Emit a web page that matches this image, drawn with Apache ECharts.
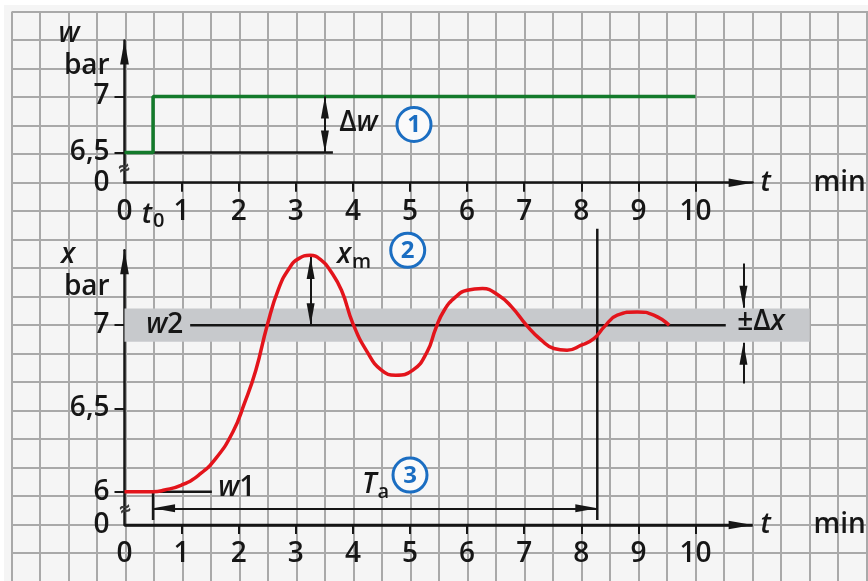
<!DOCTYPE html>
<html><head><meta charset="utf-8">
<script src="https://cdn.jsdelivr.net/npm/echarts@6/dist/echarts.min.js"></script>
<style>html,body{margin:0;padding:0;background:#fff}#c{width:868px;height:581px}</style>
</head><body><div id="c"></div>
<script>
// ---------- data ----------
const tTicks = [1, 2, 3, 4, 5, 6, 7, 8, 9, 10];
const tLabelsTop = [0, 0.5, 1, 2, 3, 4, 5, 6, 7, 8, 9, 10];
const tLabelsBottom = [0, 1, 2, 3, 4, 5, 6, 7, 8, 9, 10];
const wTicks = [6.5, 7];
const wLabelValues = [6.23, 6.5, 7];   // 6.23 = broken-axis origin shown as "0"
const xTicks = [6, 6.5, 7];
const xLabelValues = [5.8, 6, 6.5, 7]; // 5.8 = broken-axis origin shown as "0"
const wStep = [[0, 6.5], [0.5, 6.5], [0.5, 7], [10, 7]];
const wRefLine = [[0, 6.5], [3.65, 6.5]];
const xResponse = [
  [0, 6.0], [0.5, 6.0], [0.7, 6.01], [1.0, 6.04], [1.3, 6.10], [1.6, 6.20], [1.9, 6.36],
  [2.1, 6.53], [2.3, 6.73], [2.5, 7.0], [2.7, 7.22], [2.9, 7.35], [3.05, 7.40], [3.25, 7.42],
  [3.45, 7.39], [3.6, 7.33], [3.8, 7.21], [4.0, 7.01], [4.25, 6.84], [4.5, 6.73], [4.75, 6.70],
  [5.05, 6.73], [5.3, 6.84], [5.45, 6.98], [5.6, 7.09], [5.8, 7.17], [6.0, 7.21], [6.27, 7.22],
  [6.55, 7.18], [6.78, 7.11], [7.04, 7.0], [7.3, 6.91], [7.52, 6.86], [7.75, 6.85], [8.0, 6.88],
  [8.22, 6.92], [8.4, 6.99], [8.63, 7.06], [8.98, 7.08], [9.27, 7.06], [9.54, 7.0]
];
const w2Line = [[1.15, 7], [10.53, 7]];
const w1Line = [[0, 6], [1.53, 6]];
const t0Marker = [[0.5, 6], [0.5, 5.83]];
const taMarker = [[8.28, 7.58], [8.28, 5.83]];
const tAxisBottom = [[0, 5.8], [11, 5.8]];
const band = [6.9, 7.1];
const tBandEnd = 12;
const dwArrow = [[3.51, 6.5], [3.51, 7]];
const xmArrow = [[3.26, 7.0], [3.26, 7.41]];
const taArrow = [[0.5, 5.9], [8.28, 5.9]];
const dxTopArrow = [[10.84, 7.37], [10.84, 7.105]];
const dxBotArrow = [[10.84, 6.65], [10.84, 6.895]];

// ---------- styles ----------
const FONT = '"Open Sans", Roboto, "Liberation Sans", Arial, sans-serif';
const FW = 600;
const INK = '#161616';
const BLUE = '#1b6ec2';
const ARROW = 'path://M0,0L4,22L-4,22ZM0,-22';
const FS = 28;
const rich = {
  i: { fontStyle: 'italic', fontSize: FS, fontWeight: FW, color: INK, fontFamily: FONT },
  s: { fontSize: 20, fontWeight: FW, color: INK, fontFamily: FONT, padding: [14, 0, 0, 1] }
};

function lineSeries(g, data, color, width, z, extra) {
  return Object.assign({
    type: 'line', xAxisIndex: g, yAxisIndex: g, data: data, symbol: 'none', clip: false,
    lineStyle: { color: color, width: width }, z: z, silent: true, animation: false
  }, extra || {});
}
function arrowLine(pair, both) {
  return [
    { coord: pair[0], symbol: both ? ARROW : 'none' },
    { coord: pair[1], symbol: ARROW }
  ];
}
function markLines(pairs, width, label) {
  return {
    silent: true, animation: false, symbol: ['none', ARROW], symbolSize: 44, symbolKeepAspect: true,
    itemStyle: { color: INK },
    label: label || { show: false }, lineStyle: { color: INK, width: width || 2, type: 'solid' },
    emphasis: { disabled: true },
    data: pairs
  };
}

const bgAxis = (max) => ({
  type: 'value', gridIndex: 0, min: 0, max: max, interval: 1,
  axisLine: { show: false }, axisTick: { show: false }, axisLabel: { show: false },
  splitLine: { show: true, lineStyle: { color: '#a9a9a9', width: 2 } }
});

const axisLineStyle = { color: INK, width: 2.5 };
const lbl = { fontSize: FS, fontWeight: FW, color: INK, fontFamily: FONT };
const tminRich = {
  t: { fontStyle: 'italic', fontSize: FS, fontWeight: FW, color: INK, fontFamily: FONT, width: 53 },
  m: { fontSize: FS, fontWeight: FW, color: INK, fontFamily: FONT }
};

const option = {
  animation: false,
  backgroundColor: '#f5f5f5',
  textStyle: { fontFamily: FONT },
  grid: [
    { left: 11.7, top: 11.7, width: 883.5, height: 598.5, outerBoundsMode: 'none', containLabel: false },
    { left: 124.5, top: 40.5, width: 57.1 * 11, height: 142.24, outerBoundsMode: 'none', containLabel: false },
    { left: 124.5, top: 250.3, width: 57.1 * 12, height: 274.7, outerBoundsMode: 'none', containLabel: false }
  ],
  xAxis: [
    bgAxis(31),
    {
      type: 'value', gridIndex: 1, min: 0, max: 11,
      axisLine: { show: true, lineStyle: axisLineStyle, symbol: ['none', ARROW], symbolSize: [9, 48] },
      axisTick: { show: true, customValues: tTicks, length: 9, lineStyle: { color: INK, width: 2 } },
      axisLabel: Object.assign({
        customValues: tLabelsTop, margin: 15, rich: rich,
        formatter: v => (Math.abs(v - 0.5) < 1e-6 ? '{i|t}{s|0}' : String(v))
      }, lbl),
      splitLine: { show: false },
      name: '{t|t}{m|min}', nameLocation: 'end', nameGap: 8,
      nameTextStyle: { rich: tminRich }
    },
    {
      type: 'value', gridIndex: 2, min: 0, max: tBandEnd,
      axisLine: { show: false },
      axisTick: { show: true, customValues: tTicks, length: 9, lineStyle: { color: INK, width: 2 } },
      axisLabel: Object.assign({ customValues: tLabelsBottom, margin: 15 }, lbl),
      splitLine: { show: false }
    }
  ],
  yAxis: [
    bgAxis(21),
    {
      type: 'value', gridIndex: 1, min: 6.23, max: 7.5,
      axisLine: { show: true, lineStyle: axisLineStyle, symbol: ['none', ARROW], symbolSize: [9, 48] },
      axisTick: { show: true, customValues: wTicks, length: 10, lineStyle: { color: INK, width: 2 } },
      axisLabel: Object.assign({
        customValues: wLabelValues, margin: 15,
        formatter: v => (v < 6.4 ? '0' : String(v).replace('.', ','))
      }, lbl),
      splitLine: { show: false }
    },
    {
      type: 'value', gridIndex: 2, min: 5.8, max: 7.45,
      axisLine: { show: true, lineStyle: axisLineStyle, symbol: ['none', ARROW], symbolSize: [9, 48] },
      axisTick: { show: true, customValues: xTicks, length: 10, lineStyle: { color: INK, width: 2 } },
      axisLabel: Object.assign({
        customValues: xLabelValues, margin: 15,
        formatter: v => (v < 5.9 ? '0' : String(v).replace('.', ','))
      }, lbl),
      splitLine: { show: false }
    }
  ],
  series: [
    lineSeries(1, wRefLine, INK, 2.5, 3, { markLine: markLines([arrowLine(dwArrow, true)]) }),
    lineSeries(1, wStep, '#137a2b', 3.5, 4),
    lineSeries(2, w2Line, INK, 2.5, 3, {
      markArea: {
        silent: true, itemStyle: { color: '#c7c9cc', opacity: 1 }, label: { show: false },
        data: [[{ coord: [0, band[0]] }, { coord: [tBandEnd, band[1]] }]]
      },
      markLine: markLines([
        arrowLine(xmArrow, true), arrowLine(taArrow, true),
        arrowLine(dxTopArrow, false), arrowLine(dxBotArrow, false)
      ])
    }),
    lineSeries(2, w1Line, INK, 2.5, 3),
    lineSeries(2, t0Marker, INK, 2.5, 3),
    lineSeries(2, taMarker, INK, 2.5, 3),
    lineSeries(2, tAxisBottom, INK, 2.5, 3, {
      markLine: Object.assign(markLines(
        [[{ coord: tAxisBottom[0], symbol: 'none' }, { coord: tAxisBottom[1], symbol: ARROW }]], 2.5,
        { show: true, position: 'end', distance: 8, formatter: '{t|t}{m|min}', rich: tminRich }
      ), { symbolSize: 48 })
    }),
    lineSeries(2, xResponse, '#e3141b', 3.5, 6, { smooth: 0.5 })
  ]
};

const chart = echarts.init(document.getElementById('c'), null, { renderer: 'canvas' });
chart.setOption(option);

// ---------- annotations anchored in data coordinates ----------
const notes = [
  { g: 1, t: -0.97, v: 7.56, text: '{i|w}', align: 'center' },
  { g: 1, t: -0.66, v: 7.27, text: 'bar', align: 'center' },
  { g: 1, t: 3.76, v: 6.76, text: 'Δ{i|w}', align: 'left' },
  { g: 2, t: -0.99, v: 7.42, text: '{i|x}', align: 'center' },
  { g: 2, t: -0.66, v: 7.23, text: 'bar', align: 'center' },
  { g: 2, t: 1.03, v: 7.0, text: '{i|w}2', align: 'right' },
  { g: 2, t: 3.72, v: 7.42, text: '{i|x}{s|m}', align: 'left' },
  { g: 2, t: 1.64, v: 6.02, text: '{i|w}1', align: 'left' },
  { g: 2, t: 4.16, v: 6.04, text: '{i|T}{s|a}', align: 'left' },
  { g: 2, t: 10.73, v: 7.02, text: '±Δ{i|x}', align: 'left' }
];
const circles = [
  { g: 1, t: 5.07, v: 6.75, n: '1' },
  { g: 2, t: 4.96, v: 7.45, n: '2' },
  { g: 2, t: 5.0, v: 6.1, n: '3' }
];
const breaks = [{ g: 1, t: 0, v: 6.35 }, { g: 2, t: 0.02, v: 5.89 }];

const px = (g, t, v) => chart.convertToPixel({ gridIndex: g }, [t, v]);
const graphics = [
  { type: 'rect', z: 50, shape: { x: 0, y: 0, width: 868, height: 5 }, style: { fill: '#fff' } },
  { type: 'rect', z: 50, shape: { x: 0, y: 0, width: 4, height: 581 }, style: { fill: '#fff' } }
];
notes.forEach(n => {
  const p = px(n.g, n.t, n.v);
  graphics.push({
    type: 'text', z: 100, x: p[0], y: p[1],
    style: { text: n.text, rich: rich, fontSize: FS, fontWeight: FW, fontFamily: FONT, fill: INK,
      align: n.align, verticalAlign: 'middle' }
  });
});
circles.forEach(c => {
  const p = px(c.g, c.t, c.v);
  graphics.push({ type: 'circle', z: 100, shape: { cx: p[0], cy: p[1], r: 17 },
    style: { fill: '#fafafa', stroke: BLUE, lineWidth: 3 } });
  graphics.push({ type: 'text', z: 101, x: p[0], y: p[1] + 1,
    style: { text: c.n, fontSize: 24, fontWeight: 'bold', fontFamily: FONT, fill: BLUE,
      align: 'center', verticalAlign: 'middle' } });
});
breaks.forEach(b => {
  const p = px(b.g, b.t, b.v);
  graphics.push({ type: 'text', z: 100, x: p[0], y: p[1], rotation: 0.3,
    style: { text: '≈', fontSize: 20, fontWeight: 'bold', fontFamily: FONT, fill: '#3a3a3a',
      align: 'center', verticalAlign: 'middle' } });
});
chart.setOption({ graphic: graphics });
</script>
</body></html>
